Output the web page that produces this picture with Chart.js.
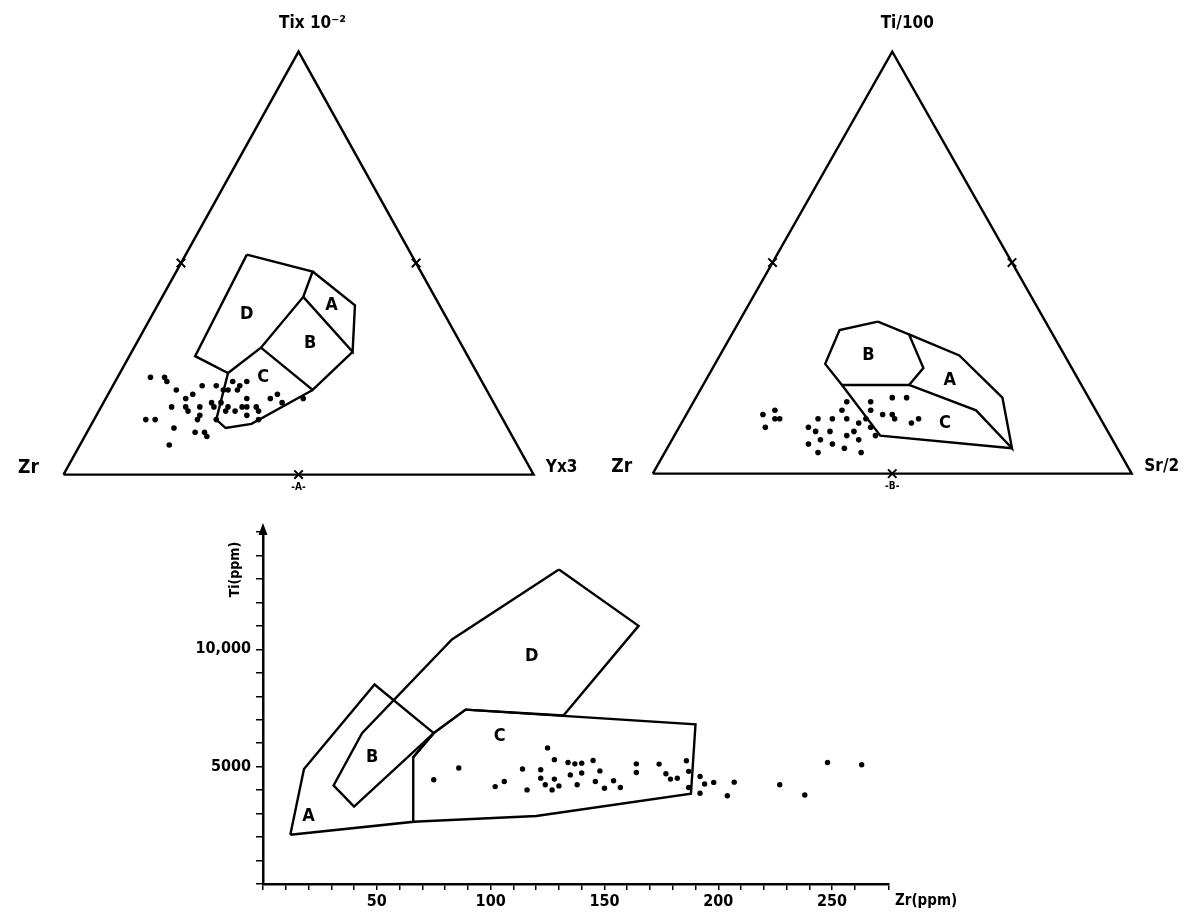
<!DOCTYPE html>
<html>
<head>
<meta charset="utf-8">
<script src="https://cdn.jsdelivr.net/npm/chart.js@4.4.1/dist/chart.umd.min.js"></script>
<style>
  html, body { margin: 0; padding: 0; background: #fff; }
  body { width: 1203px; height: 916px; position: relative; overflow: hidden; }
  canvas { position: absolute; }
</style>
</head>
<body>
<canvas id="triA" width="600" height="500" style="left:0;top:0"></canvas>
<canvas id="triB" width="603" height="500" style="left:600px;top:0"></canvas>
<canvas id="tiZr" width="840" height="416" style="left:160px;top:500px"></canvas>
<script>
//
// Data: ternary compositions are [left corner, top corner, right corner] in percent
//

const TRI_CORNERS = [[100, 0, 0], [0, 100, 0], [0, 0, 100], [100, 0, 0]]
const TRI_MIDS = [[50, 50, 0], [0, 50, 50], [50, 0, 50]]

// diagram A: Zr - Ti/100 - Y*3
const A_FIELD_D = [[35, 52, 13], [23, 48, 29], [28, 42, 30], [43, 30, 27], [53, 24, 23], [58, 28, 14], [35, 52, 13]]
const A_FIELD_A = [[23, 48, 29], [18, 40, 42], [24, 29, 47], [28, 42, 30]]
const A_FIELD_B = [[24, 29, 47], [37, 20, 43], [43, 30, 27]]
const A_FIELD_C = [[37, 20, 43], [54, 12, 34], [60, 11, 29], [61, 13, 26], [53, 24, 23]]
const A_SAMPLES = [
    [70, 23, 7], [67, 23, 10], [67, 22, 11], [66, 20, 14], [60, 21, 19], [57, 21, 22],
    [53, 22, 25], [52, 21, 27], [50, 22, 28], [55, 20, 25], [53, 20, 27], [52, 18, 30],
    [65, 18, 17], [63, 19, 18], [66, 16, 18], [66, 15, 19], [69, 16, 15], [63, 16, 21],
    [64, 14, 22], [65, 13, 22], [60, 17, 23], [60, 16, 24], [57, 16, 27], [56, 15, 29],
    [54, 16, 30], [58, 15, 27], [53, 16, 31], [51, 16, 33], [51, 15, 34], [52, 13, 35],
    [47, 18, 35], [45, 19, 36], [45, 17, 38], [40, 18, 42], [76, 13, 11], [74, 13, 13],
    [71, 11, 18], [67, 10, 23], [65, 10, 25], [65, 9, 26], [61, 13, 26], [74, 7, 19],
    [56, 20, 24], [58, 17, 25], [54, 14, 32],
]
const A_FIELD_NAMES = ['D', 'A', 'B', 'C']
const A_FIELD_AT = [[42, 38, 20], [23, 40, 37], [32, 31, 37], [46, 23, 31]]
const A_CORNER_NAMES = ['Zr', 'Tix 10⁻²', 'Yx3', '-A-']

// diagram B: Zr - Ti/100 - Sr/2
const B_FIELD_B = [[35, 36, 29], [30, 33, 37], [31, 25, 44], [36, 21, 43], [50, 21, 29], [51, 26, 23], [44, 34, 22], [35, 36, 29]]
const B_FIELD_A = [[36, 21, 43], [25, 15, 60], [22, 6, 72], [18, 18, 64], [22, 28, 50], [30, 33, 37]]
const B_FIELD_C = [[22, 6, 72], [48, 9, 43], [50, 21, 29]]
const B_SAMPLES = [
    [70, 14, 16], [67, 15, 18], [68, 13, 19], [67, 13, 20], [71, 11, 18], [62, 11, 27],
    [59, 13, 28], [61, 10, 29], [58, 10, 32], [56, 13, 31], [53, 15, 32], [51, 17, 32],
    [53, 13, 34], [53, 10, 37], [55, 9, 36], [53, 8, 39], [51, 12, 37], [47, 15, 38],
    [46, 17, 37], [41, 18, 41], [38, 18, 44], [64, 7, 29], [61, 8, 31], [63, 5, 32],
    [59, 7, 34], [57, 6, 37], [54, 5, 41], [49, 13, 38], [49, 11, 40], [45, 14, 41],
    [43, 14, 43], [43, 13, 44], [40, 12, 48], [38, 13, 49], [49, 9, 42],
]
const B_FIELD_NAMES = ['B', 'A', 'C']
const B_FIELD_AT = [[41, 28, 31], [27, 22, 51], [33, 12, 55]]
const B_CORNER_NAMES = ['Zr', 'Ti/100', 'Sr/2', '-B-']

// Ti - Zr diagram, [Zr ppm, Ti ppm]
const TZ_FIELD_A = [[12, 2100], [18, 4900], [49, 8500], [75, 6430], [66, 5400], [66, 2650], [12, 2100]]
const TZ_FIELD_C = [[66, 2650], [120, 2900], [188, 3850], [190, 6800], [89, 7430], [75, 6430], [66, 5400]]
const TZ_FIELD_D = [[130, 13400], [165, 11000], [132, 7180], [89, 7430], [75, 6430], [40, 3300], [31, 4200], [43.5, 6430], [83, 10420], [130, 13400]]
const TZ_SAMPLES = [
    [75, 4440], [86, 4940], [102, 4150], [106, 4370], [114, 4900], [116, 4010], [122, 4870],
    [122, 4510], [125, 5800], [128, 5300], [128, 4470], [124, 4230], [127, 4010], [130, 4180],
    [134, 5180], [135, 4650], [137, 5120], [140, 5150], [140, 4730], [138, 4230], [145, 5260],
    [148, 4820], [146, 4370], [150, 4080], [154, 4400], [157, 4110], [164, 5120], [164, 4750],
    [174, 5110], [177, 4700], [179, 4470], [182, 4510], [186, 5250], [187, 4800], [187, 4110],
    [192, 4580], [194, 4260], [192, 3870], [198, 4330], [207, 4340], [204, 3760], [227, 4230],
    [238, 3790], [248, 5180], [263, 5080],
]
const TZ_FIELD_NAMES = ['A', 'B', 'C', 'D']
const TZ_FIELD_AT = [[20, 2900], [48, 5400], [104, 6280], [118, 9700]]
const TZ_ZR_TICKS = [50, 100, 150, 200, 250]
const TZ_TI_TICKS = { 5000: '5000', 10000: '10,000' }

//
// Helpers
//

const FONT = '"DejaVu Sans Condensed", "DejaVu Sans", sans-serif'
const toXY = ([a, b, c]) => ({ x: (c + b / 2) / 100, y: b / 100 })

const textLayer = (items) => ({
    id: 'textLayer',
    afterDatasetsDraw (chart) {
        const { ctx, scales: { x, y } } = chart
        for (const it of items) {
            ctx.save()
            ctx.fillStyle = '#000'
            ctx.font = it.font
            ctx.textAlign = it.align || 'center'
            ctx.textBaseline = 'middle'
            const px = x.getPixelForValue(it.at.x) + (it.dx || 0)
            const py = y.getPixelForValue(it.at.y) + (it.dy || 0)
            ctx.translate(px, py)
            if (it.rotate) ctx.rotate(it.rotate)
            ctx.fillText(it.text, 0, 0)
            ctx.restore()
        }
    },
})

const outline = (data) => ({
    data,
    showLine: true,
    borderColor: '#000',
    borderWidth: 2.4,
    pointRadius: 0,
    fill: false,
})

const dots = (data, r) => ({
    data,
    pointRadius: r,
    pointBackgroundColor: '#000',
    pointBorderWidth: 0,
})

function ternary (id, frame, fields, samples, cornerNames, fieldNames, fieldAt) {
    const span = frame.right - frame.left
    const tall = frame.base - frame.apex
    const canvas = document.getElementById(id)
    const corners = TRI_CORNERS.map(toXY)
    const labels = [
        { text: cornerNames[0], at: corners[0], dx: frame.lx, dy: -7, font: `bold 19px ${FONT}` },
        { text: cornerNames[1], at: corners[1], dx: frame.tx, dy: -28, font: `bold 17px ${FONT}` },
        { text: cornerNames[2], at: corners[2], dx: frame.rx, dy: -7, font: `bold 17px ${FONT}` },
        { text: cornerNames[3], at: { x: 0.5, y: 0 }, dy: 13, font: `bold 10px ${FONT}` },
        ...fieldNames.map((t, i) => ({ text: t, at: toXY(fieldAt[i]), font: `bold 18px ${FONT}` })),
    ]
    return new Chart(canvas, {
        type: 'scatter',
        data: {
            datasets: [
                outline(TRI_CORNERS.map(toXY)),
                ...fields.map((f) => outline(f.map(toXY))),
                {
                    data: TRI_MIDS.map(toXY),
                    pointStyle: 'crossRot',
                    pointRadius: 6,
                    pointBorderColor: '#000',
                    pointBorderWidth: 2,
                },
                dots(samples.map(toXY), 2.8),
            ],
        },
        options: {
            responsive: false,
            animation: false,
            events: [],
            layout: { padding: 0 },
            plugins: { legend: { display: false }, tooltip: { enabled: false } },
            scales: {
                x: { type: 'linear', display: false, min: -frame.left / span, max: (canvas.width - frame.left) / span },
                y: { type: 'linear', display: false, min: (frame.base - canvas.height) / tall, max: frame.base / tall },
            },
        },
        plugins: [textLayer(labels)],
    })
}

//
// Ternary plots
//

ternary('triA', { left: 57, right: 540, base: 482, apex: 45, lx: -35, tx: 14, rx: 28 },
    [A_FIELD_D, A_FIELD_A, A_FIELD_B, A_FIELD_C], A_SAMPLES, A_CORNER_NAMES, A_FIELD_NAMES, A_FIELD_AT)

ternary('triB', { left: 46, right: 538, base: 481, apex: 45, lx: -31, tx: 15, rx: 30 },
    [B_FIELD_B, B_FIELD_A, B_FIELD_C], B_SAMPLES, B_CORNER_NAMES, B_FIELD_NAMES, B_FIELD_AT)

//
// Ti - Zr plot
//

const xy = ([x, y]) => ({ x, y })

const axisArrow = {
    id: 'axisArrow',
    afterDraw (chart) {
        const { ctx, chartArea: { left, top } } = chart
        ctx.save()
        ctx.fillStyle = '#000'
        ctx.beginPath()
        ctx.moveTo(left, top - 9)
        ctx.lineTo(left - 4.5, top + 3)
        ctx.lineTo(left + 4.5, top + 3)
        ctx.closePath()
        ctx.fill()
        ctx.restore()
    },
}

const tickFont = { family: FONT, size: 16, weight: 'bold' }

new Chart(document.getElementById('tiZr'), {
    type: 'scatter',
    data: {
        datasets: [
            outline(TZ_FIELD_A.map(xy)),
            outline(TZ_FIELD_C.map(xy)),
            outline(TZ_FIELD_D.map(xy)),
            dots(TZ_SAMPLES.map(xy), 2.7),
        ],
    },
    options: {
        responsive: false,
        animation: false,
        events: [],
        layout: { padding: { top: 32, right: 111, left: 0, bottom: 0 } },
        plugins: { legend: { display: false }, tooltip: { enabled: false } },
        scales: {
            x: {
                type: 'linear',
                min: 0,
                max: 275,
                afterFit: (s) => { s.height = 32 },
                ticks: {
                    stepSize: 10,
                    autoSkip: false,
                    maxRotation: 0,
                    color: '#000',
                    font: tickFont,
                    padding: 2,
                    callback: (v) => (TZ_ZR_TICKS.includes(v) ? String(v) : ''),
                },
                grid: { drawOnChartArea: false, color: '#000', tickLength: 6, lineWidth: 1.5 },
                border: { color: '#000', width: 2.5 },
            },
            y: {
                type: 'linear',
                min: 0,
                max: 15000,
                afterFit: (s) => { s.width = 103 },
                ticks: {
                    stepSize: 1000,
                    autoSkip: false,
                    color: '#000',
                    font: tickFont,
                    padding: 5,
                    callback: (v) => TZ_TI_TICKS[v] || '',
                },
                grid: { drawOnChartArea: false, color: '#000', tickLength: 7, lineWidth: 1.5 },
                border: { color: '#000', width: 2.5 },
            },
        },
    },
    plugins: [
        axisArrow,
        textLayer([
            ...TZ_FIELD_NAMES.map((t, i) => ({ text: t, at: xy(TZ_FIELD_AT[i]), font: `bold 18px ${FONT}` })),
            { text: 'Ti(ppm)', at: { x: 0, y: 13400 }, dx: -28, rotate: -Math.PI / 2, font: `bold 14px ${FONT}` },
            { text: 'Zr(ppm)', at: { x: 275, y: 0 }, dx: 6, dy: 17, align: 'left', font: `bold 15px ${FONT}` },
        ]),
    ],
})
</script>
</body>
</html>
